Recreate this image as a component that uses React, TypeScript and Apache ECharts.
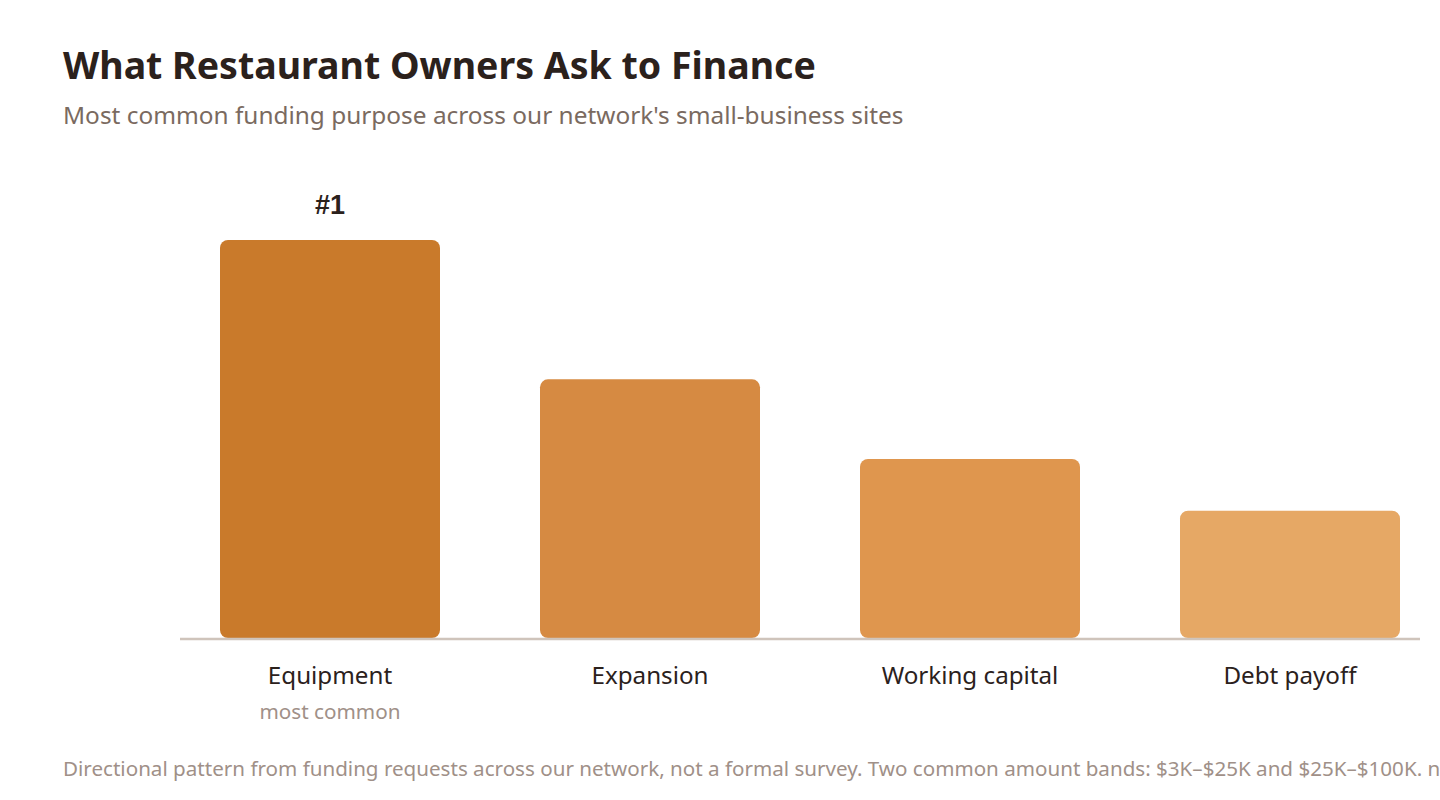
import React, { useEffect, useRef } from "react";
import * as echarts from "echarts";

const categories = ["Equipment", "Expansion", "Working capital", "Debt payoff"];
const values = [100, 65, 45, 32];
const barColors = ["#C97A2B", "#D68A42", "#DF964E", "#E6A865"];
const subLabels = ["most common", "", "", ""];
const topLabels = ["#1", "", "", ""];

const TITLE = "What Restaurant Owners Ask to Finance";
const SUBTITLE = "Most common funding purpose across our network's small-business sites";
const FOOTNOTE =
  "Directional pattern from funding requests across our network, not a formal survey. Two common amount bands: $3K–$25K and $25K–$100K. n";

const FONT = "'Noto Sans', 'Open Sans', sans-serif";

export default function App() {
  const ref = useRef<HTMLDivElement>(null);
  useEffect(() => {
    if (!ref.current) return;
    const chart = echarts.init(ref.current, null, { renderer: "svg" });
    chart.setOption({
      animation: false,
      backgroundColor: "#ffffff",
      textStyle: { fontFamily: FONT },
      title: [
        {
          text: TITLE,
          left: 63,
          top: 45,
          padding: 0,
          textStyle: { fontFamily: FONT, fontWeight: "bold", fontSize: 37.5, color: "#2B211C" },
        },
        {
          text: SUBTITLE,
          left: 63,
          top: 102,
          padding: 0,
          textStyle: { fontFamily: FONT, fontWeight: "normal", fontSize: 24.4, color: "#7A6A60" },
        },
        {
          text: FOOTNOTE,
          left: 63,
          top: 757,
          padding: 0,
          textStyle: { fontFamily: FONT, fontWeight: "normal", fontSize: 20.6, color: "#A09088" },
        },
      ],
      grid: { left: 170, width: 1280, top: 240, bottom: 162, containLabel: false },
      xAxis: {
        type: "category",
        data: categories,
        axisLine: { show: false },
        axisTick: { show: false },
        axisLabel: {
          interval: 0,
          margin: 21,
          formatter: (v: string, i: number) =>
            subLabels[i] ? `{main|${v}}\n{sub|${subLabels[i]}}` : `{main|${v}}`,
          rich: {
            main: { fontFamily: FONT, fontSize: 24.2, color: "#2B211C", lineHeight: 30 },
            sub: { fontFamily: FONT, fontSize: 20.7, color: "#A09088", lineHeight: 44 },
          },
        },
      },
      yAxis: {
        type: "value",
        min: 0,
        max: 100,
        show: false,
        splitLine: { show: false },
      },
      series: [
        {
          type: "bar",
          barWidth: 220,
          data: values.map((v, i) => ({
            value: v,
            itemStyle: { color: barColors[i], borderRadius: 8 },
            label: {
              show: !!topLabels[i],
              position: "top",
              distance: 22,
              formatter: topLabels[i],
              fontFamily: "'Liberation Sans', Arial, sans-serif",
              fontWeight: "bold",
              fontSize: 27,
              color: "#2B211C",
            },
          })),
        },
      ],
      graphic: [
        {
          type: "line",
          shape: { x1: 180, y1: 639, x2: 1420, y2: 639 },
          style: { stroke: "#CFC4BB", lineWidth: 2.5 },
          z: 10,
        },
      ],
    });
    return () => chart.dispose();
  }, []);
  return (
    <div
      style={{
        position: "absolute",
        left: 0,
        top: 0,
        width: 1440,
        height: 800,
        overflow: "hidden",
        background: "#ffffff",
      }}
    >
      <div ref={ref} style={{ width: 1480, height: 800 }} />
    </div>
  );
}
